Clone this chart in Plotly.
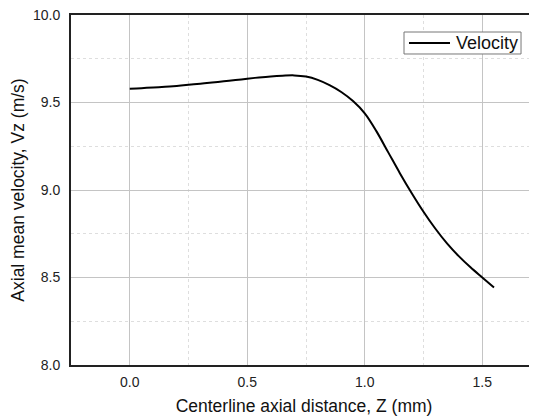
import plotly.graph_objects as go

z_mm = [0.0, 0.05, 0.1, 0.15, 0.2, 0.25, 0.3, 0.35, 0.4, 0.45, 0.5, 0.55,
        0.6, 0.65, 0.7, 0.75, 0.8, 0.85, 0.9, 0.95, 1.0, 1.05, 1.1, 1.15,
        1.2, 1.25, 1.3, 1.35, 1.4, 1.45, 1.5, 1.55]
velocity = [9.579, 9.582, 9.586, 9.590, 9.595, 9.601, 9.607, 9.614, 9.621,
            9.628, 9.636, 9.643, 9.649, 9.653, 9.655, 9.648, 9.629, 9.599,
            9.560, 9.508, 9.438, 9.335, 9.215, 9.095, 8.982, 8.876, 8.780,
            8.695, 8.622, 8.558, 8.500, 8.443]

x_ticks = [0.0, 0.5, 1.0, 1.5]
y_ticks = [8.0, 8.5, 9.0, 9.5, 10.0]
series_name = "Velocity"

fig = go.Figure()
fig.add_trace(go.Scatter(
    x=z_mm, y=velocity, mode="lines", name=series_name, showlegend=False,
    line=dict(color="black", width=2, shape="spline", smoothing=1.0),
))

# legend box (drawn to match the reference's compact legend)
fig.add_shape(type="rect", xref="paper", yref="paper",
              x0=0.7146, x1=0.9657, y0=0.8886, y1=0.9514,
              line=dict(color="#777", width=1), fillcolor="white", layer="above")
fig.add_shape(type="line", xref="paper", yref="paper",
              x0=0.7253, x1=0.8133, y0=0.92, y1=0.92,
              line=dict(color="black", width=2), layer="above")
fig.add_annotation(xref="paper", yref="paper", x=0.822, y=0.921,
                   xanchor="left", yanchor="middle", text=series_name,
                   showarrow=False, font=dict(size=18, color="#111"))

font_family = "Liberation Sans, Arial, sans-serif"
fig.update_layout(
    width=529, height=408, autosize=False,
    margin=dict(l=63, r=0, t=7, b=51),
    plot_bgcolor="white", paper_bgcolor="white",
    font=dict(family=font_family, color="#222"),
    showlegend=False,
    xaxis=dict(
        range=[-0.25, 1.733], tickvals=x_ticks, tickformat=".1f",
        showline=True, linecolor="#222", linewidth=2, mirror=True,
        showgrid=True, gridcolor="#c4c4c4", gridwidth=1,
        minor=dict(dtick=0.25, showgrid=True, gridcolor="#dedede", griddash="dot", gridwidth=1),
        zeroline=False, ticks="", ticklabelstandoff=3, automargin=False,
        ticklabeloverflow="allow",
        tickfont=dict(size=14, color="#222"),
        title=dict(text="Centerline axial distance, Z (mm)", font=dict(size=17.5, color="#111"), standoff=13),
    ),
    yaxis=dict(
        range=[8.0, 10.0], tickvals=y_ticks, tickformat=".1f",
        showline=True, linecolor="#222", linewidth=2,
        showgrid=True, gridcolor="#c4c4c4", gridwidth=1,
        minor=dict(dtick=0.25, showgrid=True, gridcolor="#dedede", griddash="dot", gridwidth=1),
        zeroline=False, ticks="", ticklabelstandoff=6, automargin=False,
        ticklabeloverflow="allow",
        tickfont=dict(size=14, color="#222"),
        title=dict(text="Axial mean velocity, Vz (m/s)", font=dict(size=17.5, color="#111"), standoff=14),
    ),
)

fig.write_html("out.html")
